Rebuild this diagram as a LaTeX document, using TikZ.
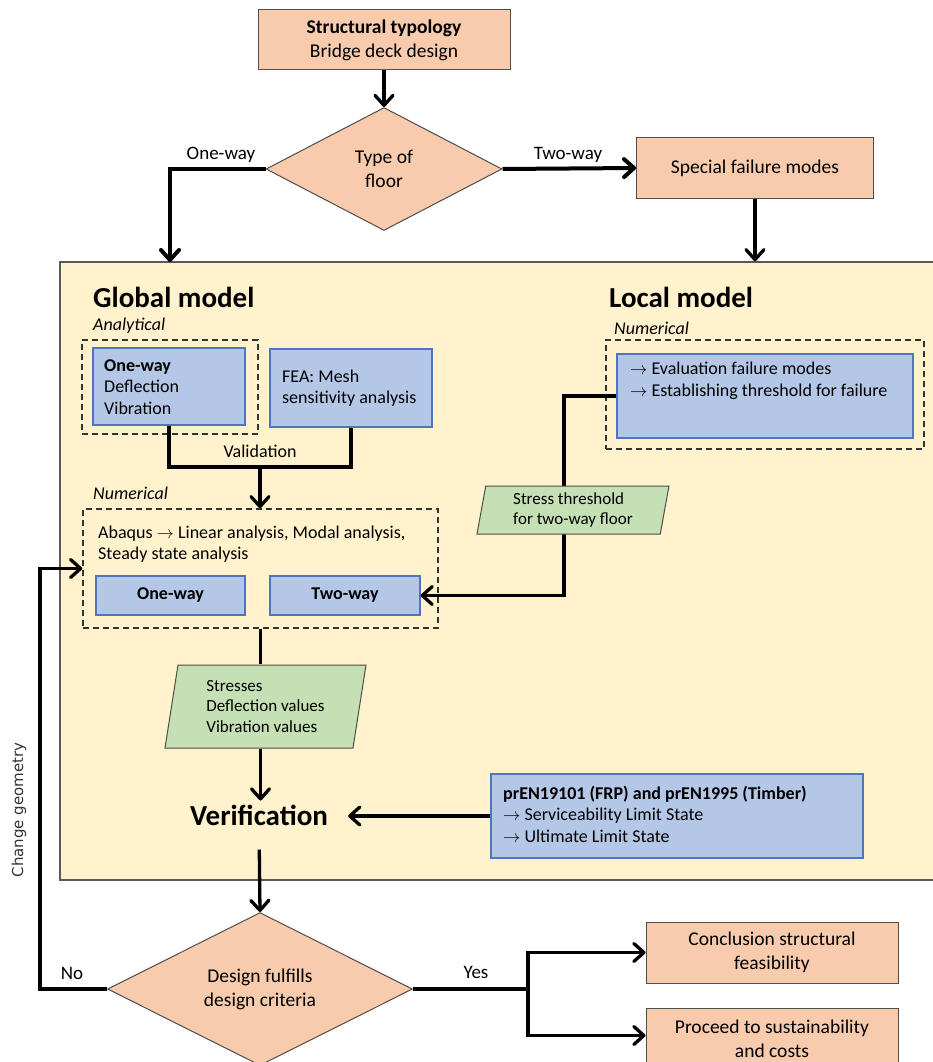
\documentclass[tikz,border=0pt]{standalone}
\usepackage{fontspec}
\setmainfont{Carlito}
\newfontfamily\dejavu{DejaVu Sans}
\usetikzlibrary{arrows.meta,shapes.geometric,calc}

\definecolor{peach}{HTML}{F8CBAD}
\definecolor{peachline}{HTML}{4D4D4D}
\definecolor{bluefill}{HTML}{B4C7E7}
\definecolor{blueline}{HTML}{4F74C0}
\definecolor{greenfill}{HTML}{C5E0B4}
\definecolor{panelfill}{HTML}{FFF2CC}
\definecolor{panelline}{HTML}{595959}

\begin{document}
\frenchspacing
\begin{tikzpicture}[
  x=1pt, y=-1pt,
  peachbox/.style={draw=peachline, line width=1pt, fill=peach, align=center,
    font=\fontsize{19.5}{24}\selectfont, inner sep=0pt},
  decision/.style={peachbox, diamond},
  bluebox/.style={draw=blueline, line width=1.2pt, fill=bluefill,
    font=\fontsize{18}{21.5}\selectfont, inner sep=0pt},
  dashbox/.style={draw=black!80, line width=1.5pt, dash pattern=on 6pt off 4pt,
    inner sep=0pt},
  databox/.style={trapezium, trapezium left angle=76, trapezium right angle=104,
    trapezium stretches body, draw=peachline, line width=1pt, fill=greenfill,
    align=left, inner sep=0pt, font=\fontsize{17}{20.5}\selectfont},
  plain/.style={inner sep=0pt, font=\fontsize{18}{21.5}\selectfont},
  boxtext/.style={plain, anchor=west, align=left},
  sublabel/.style={plain, font=\fontsize{18}{21}\selectfont\itshape, anchor=west},
  heading/.style={inner sep=0pt, font=\fontsize{29}{34}\selectfont\bfseries},
  edgelabel/.style={inner sep=0pt, font=\fontsize{19}{22}\selectfont},
  wire/.style={line width=3.3pt},
  thickwire/.style={line width=4pt},
  conn/.style={wire, -{Straight Barb[length=10pt, width=18pt, round]}},
  thickconn/.style={thickwire, -{Straight Barb[length=10pt, width=18pt, round]}},
]
\clip (0,0) rectangle (933,1062);
\fill[white] (0,0) rectangle (933,1062);

% large panel holding the global and local models
\node[draw=panelline, line width=1.5pt, fill=panelfill, minimum width=885pt,
  minimum height=618pt, inner sep=0pt] (panel) at (502.5,571) {};
\coordinate (owin) at (170,262);

% top of the chart
\node[peachbox, minimum width=252pt, minimum height=60pt] (typ) at (384,40)
  {\textbf{Structural typology}\\Bridge deck design};
\node[decision, minimum width=236pt, minimum height=123pt] (floor) at (384,169)
  {Type of\\floor};
\node[peachbox, minimum width=237pt, minimum height=61pt] (sfm) at (755,168)
  {Special failure modes};

\draw[conn] (typ.south) -- (floor.north);
\draw[thickconn] (floor.west) -| (owin);
\draw[thickconn] (floor.east) -- (sfm.west);
\draw[conn] (sfm.south) -- (sfm.south |- panel.north);
\node[edgelabel] (lblone) at (221,155) {One-way};
\node[edgelabel] (lbltwo) at (568,155) {Two-way};

% global model
\node[heading, anchor=west] (gm) at (93,297) {Global model};
\node[sublabel] (anl) at (93,326) {Analytical};
\node[dashbox, minimum width=176pt, minimum height=94pt] (anbox) at (170,387) {};
\node[bluebox, minimum width=152pt, minimum height=77pt] (ow1) at (169,386.5) {};
\node[boxtext] (ow1txt) at (104,387) {\textbf{One-way}\\Deflection\\Vibration};
\node[bluebox, minimum width=162pt, minimum height=78pt] (fea) at (351,388) {};
\node[boxtext] (featxt) at (282,388) {FEA: Mesh\\sensitivity analysis};

\node[sublabel] (numl) at (93,493) {Numerical};
\node[dashbox, minimum width=355pt, minimum height=119pt] (numbox) at (260.5,568.5) {};
\node[boxtext] (abaqus) at (98,544)
  {Abaqus $\rightarrow$ Linear analysis, Modal analysis,\\Steady state analysis};
\node[bluebox, minimum width=149pt, minimum height=39pt, font=\fontsize{18}{21.5}\selectfont\bfseries]
  (ow2) at (170.5,595.5) {One-way};
\node[bluebox, minimum width=150pt, minimum height=39pt, font=\fontsize{18}{21.5}\selectfont\bfseries]
  (tw2) at (345,595.5) {Two-way};

\coordinate (valj) at (260,467);
\draw[wire] (ow1.south) |- (valj) -| (fea.south);
\draw[conn] (valj) -- (valj |- numbox.north);
\node[edgelabel, font=\fontsize{18}{21}\selectfont] (lblval) at (260,451) {Validation};

% local model
\node[heading, anchor=west] (lm) at (609,297) {Local model};
\node[sublabel] (locl) at (614,328) {Numerical};
\node[dashbox, minimum width=318pt, minimum height=109pt] (locbox) at (765,394.5) {};
\node[bluebox, minimum width=296pt, minimum height=84pt] (fail) at (765,396) {};
\node[boxtext] (failtxt) at (630,381)
  {$\rightarrow$ Evaluation failure modes\\$\rightarrow$ Establishing threshold for failure};

\coordinate (lbend) at (564,396);
\draw[conn] (fail.west) -- (lbend) |- (tw2.east);
\node[databox, minimum width=192pt, minimum height=48pt] (st) at (573,510)
  {Stress threshold\\for two-way floor};

% results and verification
\node[databox, minimum width=201pt, minimum height=83pt] (res) at (265.5,706.5)
  {Stresses\\Deflection values\\Vibration values};
\draw[wire] (numbox.south) -- (numbox.south |- res.north);

\node[inner sep=0pt, font=\fontsize{29}{34}\selectfont\bfseries] (ver) at (259,815)
  {Verification};
\draw[conn, shorten >=4pt] (numbox.south |- res.south) -- (numbox.south |- ver.north);

\node[bluebox, minimum width=372pt, minimum height=84pt] (pren) at (677,816) {};
\node[boxtext] (prentxt) at (503,814)
  {\textbf{prEN19101 (FRP) and prEN1995 (Timber)}\\$\rightarrow$ Serviceability Limit State\\$\rightarrow$ Ultimate Limit State};
\draw[conn, shorten >=20pt] (pren.west) -- (ver.east |- pren.west);

% decision on the design criteria
\node[decision, minimum width=305pt, minimum height=144pt] (des) at (260,989)
  {Design fulfills\\design criteria};
\draw[conn, shorten <=24pt] (ver.south) -- (des.north);

\node[peachbox, minimum width=252pt, minimum height=61pt] (conc) at (772,952.5)
  {Conclusion structural\\feasibility};
\node[peachbox, minimum width=252pt, minimum height=61pt] (proc) at (772,1038.5)
  {Proceed to sustainability\\and costs};

\coordinate (yesj) at (528,989);
\draw[thickwire] (des.east) -- (yesj);
\draw[conn] (yesj) |- (conc.west);
\draw[conn] (yesj) |- ($(proc.west)+(0,-3)$);
\node[edgelabel] (lblyes) at (476,972) {Yes};

\coordinate (noj) at (40,989);
\draw[conn] (des.west) -- (noj) |- (numbox.west);
\node[edgelabel] (lblno) at (72,973) {No};
\node[rotate=90, inner sep=0pt, text=black!80, font=\dejavu\fontsize{15}{18}\selectfont]
  (chg) at (19,810) {Change geometry};

\end{tikzpicture}
\end{document}
